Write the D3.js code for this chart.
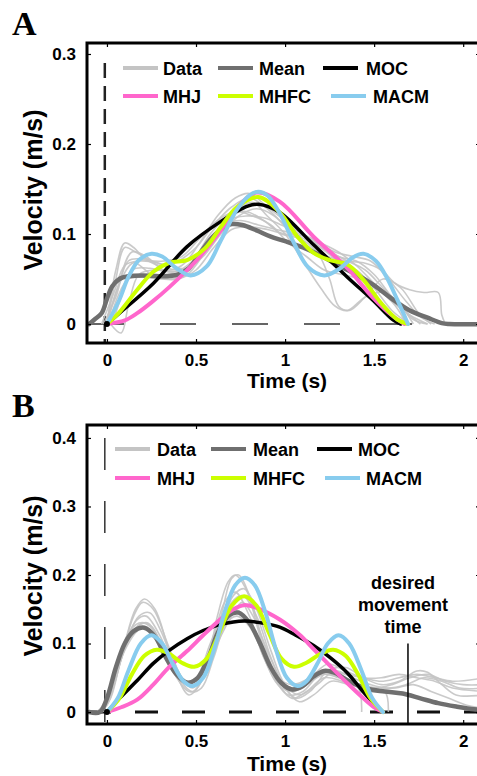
<!DOCTYPE html>
<html>
<head>
<meta charset="utf-8">
<script src="https://cdn.jsdelivr.net/npm/d3@7"></script>
<style>
  body { margin: 0; background: #fff; }
  text { font-family: "Liberation Sans", Arial, sans-serif; font-weight: bold; }
  .panel { font-family: "Liberation Serif", "Times New Roman", serif; font-size: 34px; }
</style>
</head>
<body>
<div id="app"></div>
<script>
// ---- data: [time (s), velocity (m/s)] ----
const legendItems = ['Data', 'Mean', 'MOC', 'MHJ', 'MHFC', 'MACM'];
const xTicks = [0, 0.5, 1, 1.5, 2];
const yTicksA = [0, 0.1, 0.2, 0.3];
const yTicksB = [0, 0.1, 0.2, 0.3, 0.4];
const desiredTime = 1.69;

// panel A
const trialsA = [
  [[-0.02,0],[0.05,0.03],[0.12,0.07],[0.2,0.072],[0.3,0.065],[0.4,0.07],[0.5,0.085],[0.6,0.11],[0.7,0.13],[0.8,0.14],[0.9,0.128],[1.0,0.11],[1.1,0.1],[1.2,0.085],[1.3,0.07],[1.4,0.06],[1.5,0.04],[1.6,0.015],[1.7,0]],
  [[0,0],[0.06,0.04],[0.14,0.08],[0.22,0.075],[0.32,0.06],[0.42,0.065],[0.52,0.09],[0.62,0.12],[0.72,0.14],[0.8,0.145],[0.9,0.13],[1.0,0.115],[1.1,0.1],[1.2,0.09],[1.3,0.075],[1.4,0.07],[1.5,0.055],[1.6,0.03],[1.7,0.01],[1.76,0]],
  [[0.02,0],[0.08,-0.01],[0.12,0.02],[0.18,0.055],[0.28,0.06],[0.38,0.058],[0.48,0.07],[0.58,0.1],[0.68,0.12],[0.78,0.125],[0.88,0.115],[0.98,0.1],[1.08,0.095],[1.18,0.08],[1.25,0.05],[1.3,0.02],[1.36,0.015],[1.45,0.03],[1.55,0.05],[1.65,0.04],[1.75,0.012],[1.82,0]],
  [[0,0],[0.05,0.05],[0.1,0.085],[0.16,0.08],[0.25,0.07],[0.35,0.065],[0.45,0.062],[0.55,0.085],[0.65,0.11],[0.75,0.115],[0.85,0.11],[0.95,0.105],[1.05,0.1],[1.15,0.09],[1.25,0.08],[1.35,0.07],[1.45,0.06],[1.55,0.04],[1.65,0.02],[1.72,0.005],[1.8,0]],
  [[0.03,0],[0.08,0.03],[0.14,0.06],[0.24,0.062],[0.34,0.058],[0.44,0.06],[0.54,0.075],[0.64,0.1],[0.74,0.12],[0.84,0.128],[0.94,0.12],[1.04,0.1],[1.14,0.085],[1.24,0.075],[1.34,0.07],[1.44,0.068],[1.54,0.06],[1.62,0.045],[1.7,0.038],[1.78,0.035],[1.86,0.035],[1.88,0.01],[1.9,0]],
  [[0,0],[0.07,0.045],[0.15,0.068],[0.25,0.055],[0.35,0.05],[0.45,0.055],[0.55,0.08],[0.65,0.11],[0.75,0.13],[0.82,0.135],[0.9,0.12],[1.0,0.1],[1.1,0.07],[1.2,0.04],[1.28,0.02],[1.35,0.015],[1.45,0.03],[1.55,0.035],[1.65,0.02],[1.72,0]],
  [[-0.03,0],[0.04,0.035],[0.1,0.065],[0.18,0.07],[0.28,0.068],[0.38,0.06],[0.48,0.065],[0.58,0.09],[0.68,0.115],[0.78,0.12],[0.88,0.118],[0.98,0.11],[1.08,0.1],[1.18,0.09],[1.28,0.08],[1.38,0.075],[1.48,0.07],[1.58,0.05],[1.68,0.025],[1.76,0.008],[1.84,0]],
  [[0.01,0],[0.06,0.03],[0.12,0.05],[0.2,0.052],[0.3,0.05],[0.4,0.05],[0.5,0.06],[0.6,0.085],[0.7,0.105],[0.8,0.108],[0.9,0.105],[1.0,0.1],[1.1,0.098],[1.2,0.09],[1.3,0.08],[1.4,0.065],[1.5,0.045],[1.6,0.025],[1.7,0.01],[1.8,0]],
  [[0,0],[0.05,0.06],[0.1,0.09],[0.15,0.085],[0.22,0.072],[0.32,0.07],[0.42,0.075],[0.52,0.095],[0.62,0.115],[0.72,0.125],[0.82,0.12],[0.92,0.11],[1.02,0.09],[1.12,0.075],[1.22,0.06],[1.32,0.055],[1.42,0.05],[1.52,0.04],[1.62,0.02],[1.68,0]]
];
const meanA = [[-0.1,0],[-0.07,0.005],[-0.03,0.012],[0,0.028],[0.03,0.042],[0.07,0.05],[0.12,0.053],[0.2,0.054],[0.3,0.053],[0.4,0.055],[0.46,0.062],[0.52,0.078],[0.58,0.094],[0.64,0.105],[0.7,0.111],[0.76,0.11],[0.84,0.104],[0.92,0.097],[1.0,0.092],[1.1,0.085],[1.2,0.076],[1.3,0.065],[1.4,0.055],[1.5,0.043],[1.6,0.028],[1.7,0.015],[1.8,0.007],[1.88,0.001],[1.92,0],[2.15,0]];
const mocA = [[0,0],[0.07,0.012],[0.26,0.045],[0.45,0.086],[0.64,0.114],[0.79,0.131],[0.85,0.133],[0.97,0.124],[1.16,0.088],[1.35,0.052],[1.49,0.027],[1.61,0.004],[1.65,0]];
const mhjA = [[0,0],[0.1,0.004],[0.17,0.012],[0.25,0.024],[0.35,0.041],[0.5,0.07],[0.64,0.104],[0.73,0.129],[0.84,0.146],[0.97,0.136],[1.16,0.097],[1.35,0.062],[1.49,0.03],[1.61,0.008],[1.67,0]];
const mhfcA = [[0,0],[0.07,0.013],[0.17,0.038],[0.26,0.058],[0.35,0.068],[0.45,0.071],[0.55,0.084],[0.64,0.108],[0.73,0.13],[0.85,0.141],[0.97,0.124],[1.07,0.097],[1.16,0.079],[1.25,0.071],[1.35,0.066],[1.44,0.049],[1.54,0.023],[1.63,0.005],[1.69,0]];
const macmA = [[0,0],[0.07,0.027],[0.12,0.052],[0.18,0.071],[0.25,0.078],[0.31,0.075],[0.39,0.062],[0.47,0.054],[0.56,0.064],[0.64,0.093],[0.73,0.127],[0.8,0.143],[0.85,0.147],[0.9,0.143],[0.97,0.123],[1.05,0.09],[1.13,0.063],[1.22,0.054],[1.31,0.062],[1.38,0.074],[1.44,0.078],[1.51,0.07],[1.57,0.052],[1.63,0.027],[1.69,0]];

// panel B
const trialsB = [
  [[-0.05,0],[0,0.01],[0.08,0.08],[0.15,0.14],[0.2,0.16],[0.26,0.15],[0.34,0.1],[0.42,0.05],[0.48,0.035],[0.55,0.06],[0.62,0.14],[0.68,0.19],[0.72,0.2],[0.78,0.18],[0.86,0.11],[0.94,0.05],[1.02,0.025],[1.1,0.03],[1.2,0.055],[1.3,0.05],[1.4,0.04],[1.5,0.035],[1.6,0.04],[1.7,0.05],[1.8,0.055],[1.9,0.045],[2.0,0.04],[2.12,0.04]],
  [[-0.04,0],[0.02,0.02],[0.1,0.1],[0.17,0.135],[0.22,0.14],[0.3,0.11],[0.38,0.06],[0.46,0.025],[0.52,0.04],[0.6,0.11],[0.66,0.16],[0.72,0.175],[0.8,0.14],[0.88,0.08],[0.96,0.04],[1.04,0.02],[1.12,0.03],[1.22,0.05],[1.32,0.045],[1.41,0.035],[1.43,0]],
  [[-0.03,0],[0.04,0.04],[0.1,0.1],[0.16,0.15],[0.21,0.165],[0.27,0.15],[0.35,0.09],[0.43,0.045],[0.5,0.04],[0.58,0.08],[0.65,0.15],[0.7,0.195],[0.74,0.2],[0.8,0.17],[0.88,0.1],[0.96,0.05],[1.04,0.035],[1.14,0.045],[1.24,0.06],[1.34,0.055],[1.44,0.05],[1.54,0.045],[1.64,0.05],[1.74,0.055],[1.84,0.05],[1.94,0.045],[2.12,0.05]],
  [[-0.06,0],[0,0.015],[0.07,0.07],[0.14,0.115],[0.2,0.13],[0.26,0.12],[0.34,0.08],[0.42,0.045],[0.5,0.05],[0.58,0.1],[0.65,0.14],[0.72,0.15],[0.8,0.13],[0.88,0.08],[0.96,0.04],[1.04,0.03],[1.12,0.04],[1.22,0.055],[1.32,0.05],[1.42,0.04],[1.52,0.035],[1.62,0.035],[1.72,0.04],[1.82,0.03],[1.92,0.02],[2.02,0.01],[2.12,0.005]],
  [[-0.02,0],[0.05,0.05],[0.12,0.11],[0.18,0.14],[0.24,0.145],[0.3,0.12],[0.38,0.07],[0.46,0.04],[0.54,0.05],[0.62,0.1],[0.7,0.14],[0.76,0.16],[0.82,0.14],[0.9,0.09],[0.98,0.045],[1.06,0.02],[1.14,0.03],[1.24,0.06],[1.34,0.065],[1.44,0.05],[1.54,0.04],[1.64,0.045],[1.74,0.06],[1.8,0.058],[1.88,0.04],[1.96,0.025],[2.12,0.025]],
  [[-0.05,0],[0.02,0.03],[0.1,0.09],[0.18,0.12],[0.24,0.12],[0.32,0.09],[0.4,0.05],[0.48,0.03],[0.56,0.06],[0.64,0.12],[0.7,0.16],[0.76,0.17],[0.84,0.14],[0.92,0.08],[1.0,0.035],[1.08,0.015],[1.16,0.025],[1.26,0.045],[1.36,0.04],[1.46,0.035],[1.56,0.03],[1.58,0]],
  [[-0.04,0],[0.03,0.04],[0.1,0.1],[0.17,0.125],[0.23,0.13],[0.3,0.1],[0.38,0.055],[0.46,0.03],[0.53,0.035],[0.6,0.08],[0.67,0.13],[0.73,0.14],[0.8,0.125],[0.88,0.085],[0.96,0.05],[1.04,0.04],[1.14,0.05],[1.24,0.07],[1.34,0.06],[1.44,0.05],[1.54,0.05],[1.64,0.055],[1.74,0.05],[1.84,0.045],[1.94,0.035],[2.12,0.03]],
  [[-0.03,0],[0.04,0.05],[0.11,0.11],[0.18,0.13],[0.25,0.125],[0.33,0.085],[0.41,0.05],[0.49,0.04],[0.57,0.07],[0.65,0.13],[0.71,0.17],[0.77,0.18],[0.84,0.15],[0.92,0.09],[1.0,0.04],[1.08,0.025],[1.18,0.04],[1.28,0.06],[1.38,0.05],[1.48,0.04],[1.58,0.035],[1.68,0.04],[1.78,0.05],[1.88,0.045],[1.98,0.035],[2.12,0.035]]
];
const meanB = [[-0.1,0],[-0.04,0],[0,0.02],[0.05,0.065],[0.1,0.1],[0.15,0.118],[0.21,0.123],[0.27,0.11],[0.33,0.08],[0.39,0.055],[0.45,0.043],[0.51,0.05],[0.57,0.08],[0.63,0.12],[0.69,0.142],[0.74,0.145],[0.8,0.13],[0.86,0.1],[0.92,0.065],[0.98,0.042],[1.04,0.033],[1.1,0.038],[1.16,0.052],[1.22,0.06],[1.28,0.057],[1.36,0.045],[1.46,0.034],[1.56,0.03],[1.66,0.027],[1.76,0.02],[1.86,0.013],[1.96,0.008],[2.06,0.004],[2.15,0.003]];
const mocB = [[0,0],[0.07,0.02],[0.17,0.046],[0.26,0.071],[0.35,0.09],[0.45,0.107],[0.54,0.119],[0.64,0.128],[0.77,0.133],[0.87,0.13],[0.97,0.124],[1.06,0.112],[1.16,0.097],[1.25,0.08],[1.35,0.057],[1.44,0.029],[1.5,0.012],[1.55,0]];
const mhjB = [[0,0],[0.08,0.007],[0.17,0.018],[0.26,0.04],[0.35,0.066],[0.45,0.089],[0.54,0.112],[0.64,0.136],[0.71,0.15],[0.77,0.156],[0.84,0.152],[0.97,0.135],[1.08,0.113],[1.16,0.092],[1.25,0.068],[1.35,0.042],[1.44,0.02],[1.5,0.007],[1.55,0]];
const mhfcB = [[0,0],[0.07,0.02],[0.14,0.055],[0.21,0.082],[0.28,0.091],[0.35,0.085],[0.42,0.072],[0.49,0.066],[0.56,0.078],[0.63,0.115],[0.7,0.155],[0.77,0.169],[0.84,0.155],[0.91,0.115],[0.98,0.078],[1.05,0.066],[1.12,0.072],[1.2,0.085],[1.27,0.091],[1.34,0.082],[1.41,0.055],[1.48,0.02],[1.55,0]];
const macmB = [[0,0],[0.06,0.02],[0.12,0.06],[0.19,0.1],[0.25,0.112],[0.31,0.1],[0.37,0.07],[0.43,0.045],[0.48,0.038],[0.54,0.05],[0.6,0.09],[0.66,0.145],[0.72,0.185],[0.775,0.196],[0.83,0.185],[0.89,0.145],[0.95,0.09],[1.01,0.05],[1.07,0.038],[1.12,0.045],[1.18,0.07],[1.24,0.1],[1.3,0.112],[1.36,0.1],[1.43,0.06],[1.49,0.02],[1.55,0]];

const colors = { Data: '#c4c4c4', Mean: '#6f6f6f', MOC: '#000', MHJ: '#ff66cc', MHFC: '#ccff00', MACM: '#88ccee' };
const widths = { Data: 1.6, Mean: 4.5, MOC: 3.5, MHJ: 4, MHFC: 4, MACM: 4 };

const width = 477, height = 776;
const svg = d3.select('#app').append('svg').attr('width', width).attr('height', height);

function drawPanel(cfg) {
  const { top, bottom, yDomain, yTicks, label, labelY, series, trials } = cfg;
  const left = 87, right = 481;
  const x = d3.scaleLinear([-0.112, 2.1], [left, right]);
  const y = d3.scaleLinear(yDomain, [bottom, top]);
  const g = svg.append('g');

  const clipId = 'clip' + label;
  svg.append('clipPath').attr('id', clipId).append('rect')
    .attr('x', left).attr('y', top).attr('width', right - left).attr('height', bottom - top);
  const plot = g.append('g').attr('clip-path', `url(#${clipId})`);

  const line = d3.line().x(d => x(d[0])).y(d => y(d[1])).curve(d3.curveCatmullRom.alpha(0.5));

  // zero dashed line + t=0 dashed line
  plot.append('line')
    .attr('x1', left + 1).attr('x2', right).attr('y1', y(0)).attr('y2', y(0))
    .attr('stroke', cfg.zeroDash.color).attr('stroke-width', cfg.zeroDash.w)
    .attr('stroke-dasharray', cfg.zeroDash.dash);
  plot.append('line')
    .attr('x1', x(-0.012)).attr('x2', x(-0.012)).attr('y1', y(cfg.vDash.from)).attr('y2', bottom)
    .attr('stroke', cfg.vDash.color).attr('stroke-width', cfg.vDash.w)
    .attr('stroke-dasharray', cfg.vDash.dash);

  plot.selectAll('path.trial').data(trials).join('path')
    .attr('class', 'trial')
    .attr('d', line).attr('fill', 'none')
    .attr('stroke', colors.Data).attr('stroke-width', widths.Data).attr('stroke-opacity', 0.9);

  ['Mean', 'MOC', 'MHJ', 'MHFC', 'MACM'].forEach(k => {
    plot.append('path').datum(series[k]).attr('d', line).attr('fill', 'none')
      .attr('stroke', colors[k]).attr('stroke-width', widths[k])
      .attr('stroke-linejoin', 'round').attr('stroke-linecap', 'round');
  });

  plot.append('circle').attr('cx', x(0)).attr('cy', y(0)).attr('r', 3).attr('fill', '#000');

  if (cfg.desired) {
    g.append('line')
      .attr('x1', x(desiredTime)).attr('x2', x(desiredTime))
      .attr('y1', y(0.1)).attr('y2', bottom)
      .attr('stroke', '#000').attr('stroke-width', 1.5);
    const t = g.append('text').attr('text-anchor', 'middle').attr('font-size', 18);
    ['desired', 'movement', 'time'].forEach((w, i) => {
      t.append('tspan').attr('x', x(desiredTime) - 5).attr('y', y(0.1) - 55 + i * 22).text(w);
    });
  }

  // axes
  const xAxisB = d3.axisBottom(x).tickValues(xTicks).tickSize(-4).tickPadding(11).tickFormat(d3.format('~g'));
  const xAxisT = d3.axisTop(x).tickValues(xTicks).tickSize(-4).tickFormat('');
  const yAxisL = d3.axisLeft(y).tickValues(yTicks).tickSize(-4).tickPadding(11).tickFormat(d3.format('~g'));
  const yAxisR = d3.axisRight(y).tickValues(yTicks).tickSize(-5).tickFormat('');

  const ax = [
    g.append('g').attr('transform', `translate(0,${bottom})`).call(xAxisB),
    g.append('g').attr('transform', `translate(0,${top})`).call(xAxisT),
    g.append('g').attr('transform', `translate(${left},0)`).call(yAxisL),
    g.append('g').attr('transform', `translate(${right},0)`).call(yAxisR)
  ];
  ax.forEach(a => {
    a.select('.domain').remove();
    a.selectAll('.tick line').attr('stroke', '#000').attr('stroke-width', 1.2);
    a.selectAll('text').attr('font-size', 17).attr('fill', '#000')
      .attr('font-family', '"Liberation Sans", Arial, sans-serif').attr('font-weight', 'bold');
  });

  // frame
  g.append('path')
    .attr('d', `M${right},${top}H${left}V${bottom}H${right}`)
    .attr('fill', 'none').attr('stroke', '#000').attr('stroke-width', 3);

  // legend
  const lg = g.append('g');
  legendItems.forEach((k, i) => {
    const row = Math.floor(i / 3);
    const lx = cfg.legendX[i];
    const ly = cfg.legendY[row];
    lg.append('line').attr('x1', lx).attr('x2', lx + 35).attr('y1', ly).attr('y2', ly)
      .attr('stroke', colors[k]).attr('stroke-width', 4);
    lg.append('text').attr('x', cfg.legendTextX[i]).attr('y', ly + 7)
      .attr('font-size', 18).text(k);
  });

  // titles
  g.append('text').attr('class', 'panel').attr('x', 12).attr('y', top - 8).text(label);
  g.append('text').attr('text-anchor', 'middle').attr('font-size', 25)
    .attr('transform', `translate(42,${labelY}) rotate(-90)`).text('Velocity (m/s)');
  g.append('text').attr('text-anchor', 'middle').attr('font-size', 21)
    .attr('x', 287).attr('y', bottom + cfg.xTitleOffset).text('Time (s)');
}

drawPanel({
  label: 'A', top: 43, bottom: 343, yDomain: [-0.0211, 0.3122], yTicks: yTicksA, labelY: 190,
  trials: trialsA,
  series: { Mean: meanA, MOC: mocA, MHJ: mhjA, MHFC: mhfcA, MACM: macmA },
  zeroDash: { color: '#333', w: 1.6, dash: '36,36' },
  vDash: { from: 0.29, color: '#222', w: 2.5, dash: '15,8' },
  legendX: [123, 218, 323, 123, 218, 331],
  legendTextX: [163, 259, 366, 163, 259, 373],
  legendY: [68, 96],
  xTitleOffset: 45,
  desired: false
});

drawPanel({
  label: 'B', top: 425, bottom: 724, yDomain: [-0.01745, 0.4189], yTicks: yTicksB, labelY: 576,
  trials: trialsB,
  series: { Mean: meanB, MOC: mocB, MHJ: mhjB, MHFC: mhfcB, MACM: macmB },
  zeroDash: { color: '#111', w: 3, dash: '23,24' },
  vDash: { from: 0.4, color: '#333', w: 1.5, dash: '32,31' },
  legendX: [115, 211, 317, 115, 211, 325],
  legendTextX: [157, 253, 358, 157, 253, 366],
  legendY: [449, 478],
  xTitleOffset: 47,
  desired: true
});
</script>
</body>
</html>
